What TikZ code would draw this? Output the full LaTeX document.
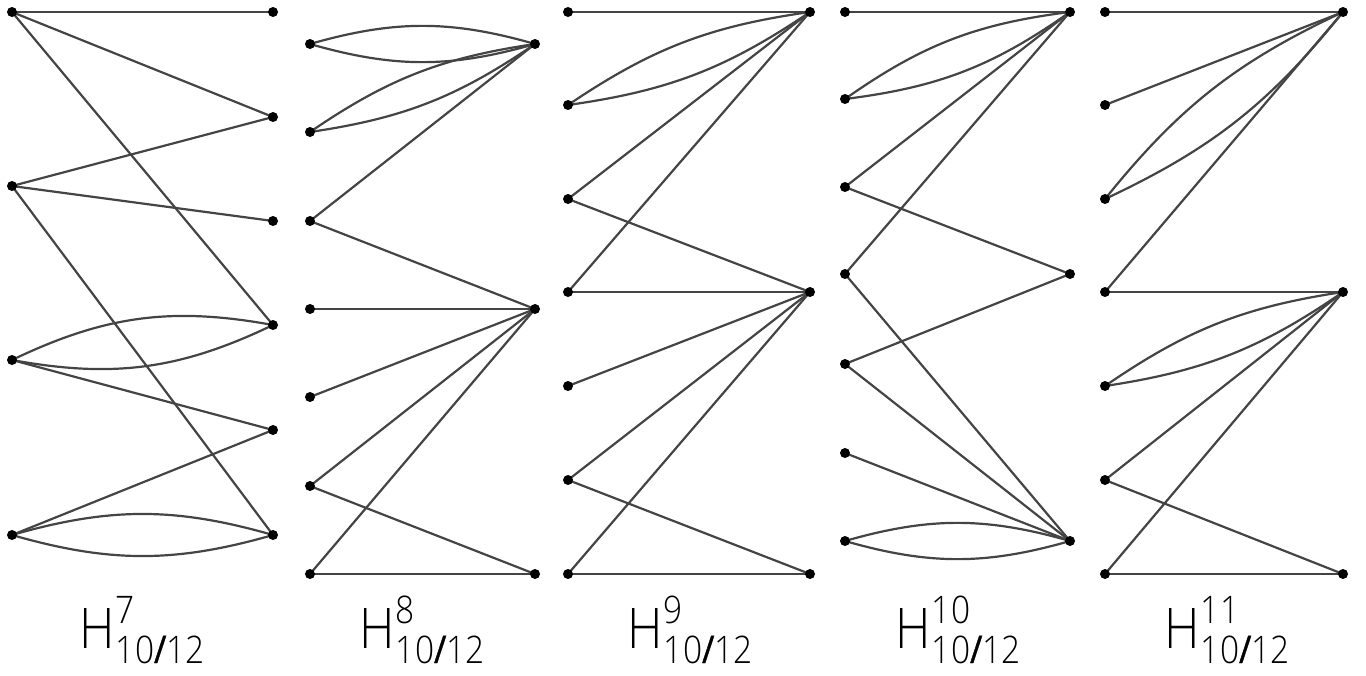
\documentclass[tikz,border=0pt]{standalone}
\usepackage{fontspec}
\setmainfont{Open Sans Light}[FakeStretch=0.88]
\newfontfamily\slashfont{Open Sans}[FakeStretch=0.88, FakeBold=1.2]
\newcommand{\hlab}[1]{{\fontsize{56}{60}\selectfont H}\kern1pt\rlap{\raisebox{25pt}{\fontsize{38}{40}\selectfont #1}}\raisebox{-15pt}{\fontsize{38}{40}\selectfont 10{\slashfont/}12}}
\definecolor{edgegray}{HTML}{444444}
\tikzset{
  dot/.style={circle, fill=black, inner sep=0pt, minimum size=10pt},
  edge/.style={draw=edgegray, line width=2.2pt},
  lab/.style={anchor=base, inner sep=0pt, text=black}
}
\begin{document}
\begin{tikzpicture}[x=1pt,y=-1pt]
\useasboundingbox (0,0) rectangle (1366,675);
% ---------- vertices ----------
\foreach \n/\y in {1/12,2/186,3/360,4/535} \coordinate (a\n) at (12,\y);
\foreach \n/\y in {1/12,2/117,3/221,4/325,5/430,6/535} \coordinate (b\n) at (273,\y);
\foreach \n/\y in {1/44,2/132,3/221,4/309,5/397,6/486,7/574} \coordinate (c\n) at (310,\y);
\foreach \n/\y in {1/44,2/309,3/574} \coordinate (d\n) at (535,\y);
\foreach \n/\y in {1/12,2/105,3/199,4/292,5/386,6/480,7/574} \coordinate (e\n) at (568,\y);
\foreach \n/\y in {1/12,2/292,3/574} \coordinate (f\n) at (810,\y);
\foreach \n/\y in {1/12,2/99,3/187,4/274,5/364,6/453,7/541} \coordinate (g\n) at (845,\y);
\foreach \n/\y in {1/12,2/274,3/541} \coordinate (h\n) at (1070,\y);
\foreach \n/\y in {1/12,2/105,3/199,4/292,5/386,6/480,7/574} \coordinate (i\n) at (1105,\y);
\foreach \n/\y in {1/12,2/292,3/574} \coordinate (j\n) at (1343,\y);

% Graph 1 edges
\draw[edge] (a1) -- (b1);
\draw[edge] (a1) -- (b2);
\draw[edge] (a1) -- (b4);
\draw[edge] (a2) -- (b2);
\draw[edge] (a2) -- (b3);
\draw[edge] (a2) -- (b6);
\draw[edge] (a3) to[bend left=18] (b4);
\draw[edge] (a3) to[bend right=18] (b4);
\draw[edge] (a3) -- (b5);
\draw[edge] (a4) -- (b5);
\draw[edge] (a4) to[bend left=16] (b6);
\draw[edge] (a4) to[bend right=16] (b6);
% Graph 2 edges
\draw[edge] (c1) to[bend left=16] (d1);
\draw[edge] (c1) to[bend right=16] (d1);
\draw[edge] (c2) to[bend left=13] (d1);
\draw[edge] (c2) to[bend right=13] (d1);
\draw[edge] (c3) -- (d1);
\draw[edge] (c3) -- (d2);
\draw[edge] (c4) -- (d2);
\draw[edge] (c5) -- (d2);
\draw[edge] (c6) -- (d2);
\draw[edge] (c6) -- (d3);
\draw[edge] (c7) -- (d2);
\draw[edge] (c7) -- (d3);
% Graph 3 edges
\draw[edge] (e1) -- (f1);
\draw[edge] (e2) to[bend left=13] (f1);
\draw[edge] (e2) to[bend right=13] (f1);
\draw[edge] (e3) -- (f1);
\draw[edge] (e3) -- (f2);
\draw[edge] (e4) -- (f1);
\draw[edge] (e4) -- (f2);
\draw[edge] (e5) -- (f2);
\draw[edge] (e6) -- (f2);
\draw[edge] (e6) -- (f3);
\draw[edge] (e7) -- (f2);
\draw[edge] (e7) -- (f3);
% Graph 4 edges
\draw[edge] (g1) -- (h1);
\draw[edge] (g2) to[bend left=14] (h1);
\draw[edge] (g2) to[bend right=14] (h1);
\draw[edge] (g3) -- (h1);
\draw[edge] (g3) -- (h2);
\draw[edge] (g4) -- (h1);
\draw[edge] (g4) -- (h3);
\draw[edge] (g5) -- (h2);
\draw[edge] (g5) -- (h3);
\draw[edge] (g6) -- (h3);
\draw[edge] (g7) to[bend left=16] (h3);
\draw[edge] (g7) to[bend right=16] (h3);
% Graph 5 edges
\draw[edge] (i1) -- (j1);
\draw[edge] (i2) -- (j1);
\draw[edge] (i3) to[bend left=13] (j1);
\draw[edge] (i3) to[bend right=13] (j1);
\draw[edge] (i4) -- (j1);
\draw[edge] (i4) -- (j2);
\draw[edge] (i5) to[bend left=13] (j2);
\draw[edge] (i5) to[bend right=13] (j2);
\draw[edge] (i6) -- (j2);
\draw[edge] (i6) -- (j3);
\draw[edge] (i7) -- (j2);
\draw[edge] (i7) -- (j3);

% dots on top
\foreach \p in {a1,a2,a3,a4,b1,b2,b3,b4,b5,b6,
                c1,c2,c3,c4,c5,c6,c7,d1,d2,d3,
                e1,e2,e3,e4,e5,e6,e7,f1,f2,f3,
                g1,g2,g3,g4,g5,g6,g7,h1,h2,h3,
                i1,i2,i3,i4,i5,i6,i7,j1,j2,j3}
  \node[dot] (v\p) at (\p) {};

% Labels
\node[lab] (l7) at (142,648) {\hlab{7}};
\node[lab] (l8) at (422,648) {\hlab{8}};
\node[lab] (l9) at (690,648) {\hlab{9}};
\node[lab] (l10) at (958,648) {\hlab{10}};
\node[lab] (l11) at (1227,648) {\hlab{11}};
\end{tikzpicture}
\end{document}
